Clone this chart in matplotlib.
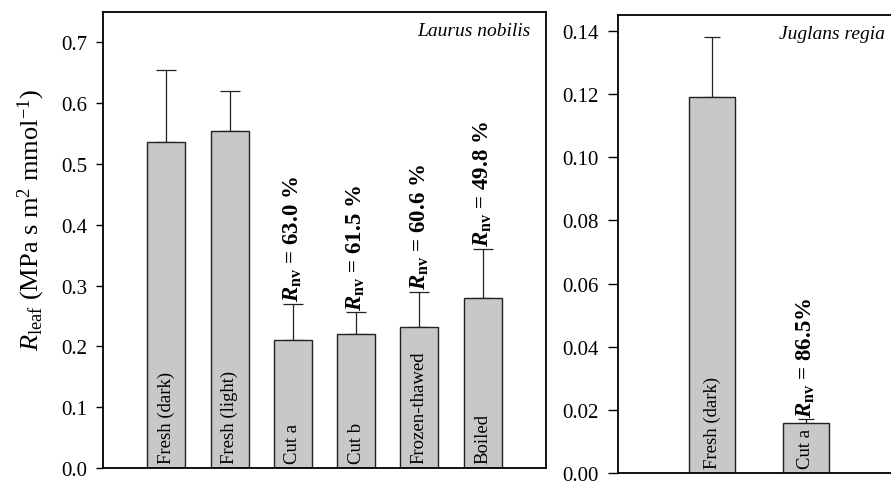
import numpy as np
import matplotlib.pyplot as plt

# Laurus nobilis panel
laurus_labels = ['Fresh (dark)', 'Fresh (light)', 'Cut a', 'Cut b', 'Frozen-thawed', 'Boiled']
laurus_mean = [0.537, 0.555, 0.210, 0.221, 0.232, 0.280]
laurus_err = [0.118, 0.065, 0.060, 0.035, 0.058, 0.080]
laurus_rnv = [None, None, '63.0 %', '61.5 %', '60.6 %', '49.8 %']

# Juglans regia panel
juglans_labels = ['Fresh (dark)', 'Cut a']
juglans_mean = [0.119, 0.016]
juglans_err = [0.019, 0.001]
juglans_rnv = [None, '86.5%']

plt.rcParams['font.family'] = ['Liberation Serif', 'DejaVu Serif']
plt.rcParams['mathtext.fontset'] = 'custom'
plt.rcParams['mathtext.rm'] = 'Liberation Serif'
plt.rcParams['mathtext.it'] = 'Liberation Serif:italic'
plt.rcParams['mathtext.bf'] = 'Liberation Serif:bold'
plt.rcParams['mathtext.bfit'] = 'Liberation Serif:bold:italic'

BAR_COLOR = '#c8c8c8'

fig = plt.figure(figsize=(8.91, 4.85), dpi=100)
ax1 = fig.add_axes([0.1156, 0.033, 0.4972, 0.9402])
ax2 = fig.add_axes([0.6936, 0.0225, 0.3165, 0.9445])


def draw_panel(ax, labels, mean, err, rnv, width, ymax, species, capsize):
    x = np.arange(1, len(labels) + 1)
    ax.bar(x, mean, width=width, color=BAR_COLOR, edgecolor='#222222', linewidth=1.0, zorder=2)
    ax.errorbar(x, mean, yerr=[np.zeros(len(err)), err], fmt='none', ecolor='#222222',
                elinewidth=0.9, capsize=capsize, capthick=0.9, zorder=1)
    for i, lab in enumerate(labels):
        ax.text(x[i], ymax * 0.012, lab, rotation=90, ha='center', va='bottom', fontsize=13.5, zorder=3)
        if rnv[i] is not None:
            ax.annotate(r'$\mathbfit{R}_{\mathbf{nv}}$ = ' + rnv[i], xy=(x[i], mean[i] + err[i]),
                        xytext=(0, 2), textcoords='offset points', rotation=90,
                        ha='center', va='bottom', fontsize=16.5, fontweight='bold')
    ax.annotate(species, xy=(1, 1), xycoords='axes fraction', xytext=(-11, -7),
                textcoords='offset points', ha='right', va='top', fontsize=14, style='italic')
    ax.set_xlim(0, len(labels) + 1)
    ax.set_ylim(0, ymax)
    ax.set_xticks([])
    for s in ax.spines.values():
        s.set_linewidth(1.3)


draw_panel(ax1, laurus_labels, laurus_mean, laurus_err, laurus_rnv, 0.6, 0.75, 'Laurus nobilis', 7)
draw_panel(ax2, juglans_labels, juglans_mean, juglans_err, juglans_rnv, 0.48, 0.145, 'Juglans regia', 6)

ax1.set_yticks(np.arange(0, 0.71, 0.1))
ax1.set_yticklabels([f'{v:.1f}' for v in np.arange(0, 0.71, 0.1)])
ax1.tick_params(axis='y', direction='out', length=5, width=1, pad=6, labelsize=15)
ax1.set_ylabel(r'$\mathit{R}_{\mathrm{leaf}}$ (MPa s m$^2$ mmol$^{-1}$)', fontsize=19)
ax1.yaxis.set_label_coords(-0.127, 0.545)

ax2.set_yticks(np.arange(0, 0.141, 0.02))
ax2.set_yticklabels([f'{v:.2f}' for v in np.arange(0, 0.141, 0.02)])
ax2.tick_params(axis='y', direction='out', length=7, width=1, pad=7, labelsize=15)

fig.savefig('out.png', dpi=100)
